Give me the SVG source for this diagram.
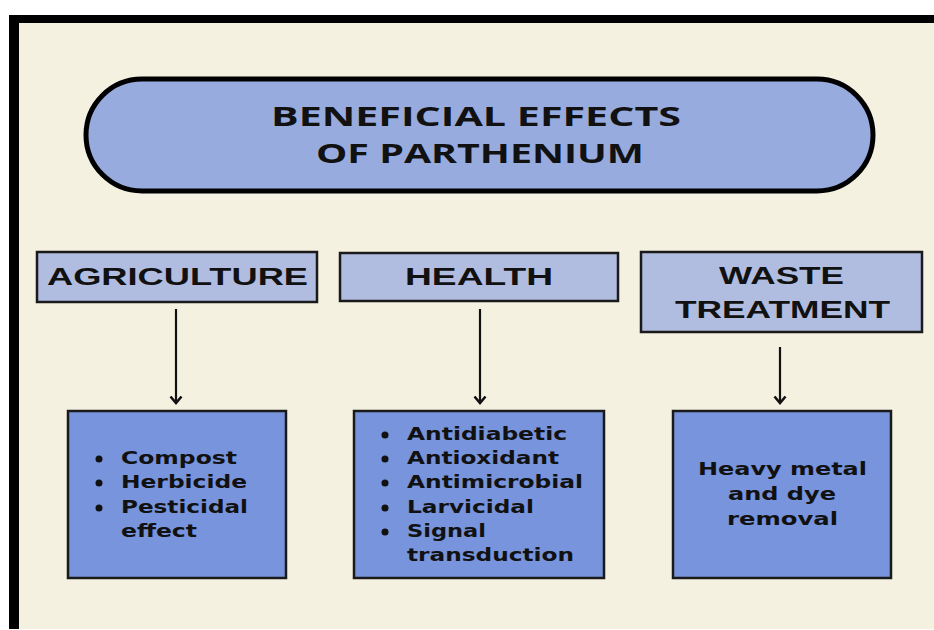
<svg xmlns="http://www.w3.org/2000/svg" width="934" height="630" viewBox="0 0 934 630">
<defs>
<style>
.title{font-family:"Open Sans","Liberation Sans",sans-serif;font-weight:700;font-size:26px;fill:#111;text-anchor:middle}
.head{font-family:"Liberation Sans",Arial,sans-serif;font-weight:700;font-size:23px;fill:#111}
.item{font-family:"DejaVu Sans","Liberation Sans",sans-serif;font-weight:700;font-size:18px;fill:#111}
.hbox{fill:#b0bde0;stroke:#1a1a1a;stroke-width:2.5}
.bbox{fill:#7794dc;stroke:#1a1a1a;stroke-width:2.5}
.conn{stroke:#111;stroke-width:2.2;fill:none;marker-end:url(#ah)}
</style>
<marker id="ah" markerWidth="14" markerHeight="10" refX="7" refY="8" orient="0" markerUnits="userSpaceOnUse">
<path d="M1.5,1.5 L7,8 L12.5,1.5" fill="none" stroke="#111" stroke-width="2.6" stroke-linejoin="miter"/>
</marker>
</defs>
<rect x="0" y="0" width="934" height="630" fill="#ffffff"/>
<rect x="9" y="15" width="925" height="614" fill="#000"/>
<rect x="19" y="23" width="915" height="606" fill="#f5f1e1"/>

<g id="title">
<rect x="86" y="79" width="787" height="112" rx="56" ry="56" fill="#98abdf" stroke="#000" stroke-width="5"/>
<text class="title" x="476" y="126" textLength="410" lengthAdjust="spacingAndGlyphs">BENEFICIAL EFFECTS</text>
<text class="title" x="480" y="163" textLength="328" lengthAdjust="spacingAndGlyphs">OF PARTHENIUM</text>
</g>

<g id="agriculture">
<rect class="hbox" x="37" y="252" width="280" height="50"/>
<text class="head" x="47" y="285" textLength="261" lengthAdjust="spacingAndGlyphs">AGRICULTURE</text>
</g>
<g id="health">
<rect class="hbox" x="340" y="253" width="278" height="48"/>
<text class="head" x="405" y="285" textLength="148" lengthAdjust="spacingAndGlyphs">HEALTH</text>
</g>
<g id="waste">
<rect class="hbox" x="641" y="252" width="281" height="80"/>
<text class="head" x="719" y="284" textLength="125" lengthAdjust="spacingAndGlyphs">WASTE</text>
<text class="head" x="675" y="318" textLength="215" lengthAdjust="spacingAndGlyphs">TREATMENT</text>
</g>

<g id="connectors">
<line class="conn" x1="176" y1="309" x2="176" y2="403"/>
<line class="conn" x1="480" y1="309" x2="480" y2="403"/>
<line class="conn" x1="780" y1="347" x2="780" y2="403"/>
</g>

<g id="agri-items">
<rect class="bbox" x="68" y="411" width="218" height="167"/>
<circle cx="99" cy="459" r="3.5" fill="#111"/>
<circle cx="99" cy="483" r="3.5" fill="#111"/>
<circle cx="99" cy="508" r="3.5" fill="#111"/>
<text class="item" x="121" y="464" textLength="116" lengthAdjust="spacingAndGlyphs">Compost</text>
<text class="item" x="121" y="488" textLength="126" lengthAdjust="spacingAndGlyphs">Herbicide</text>
<text class="item" x="121" y="513" textLength="127" lengthAdjust="spacingAndGlyphs">Pesticidal</text>
<text class="item" x="121" y="537" textLength="76" lengthAdjust="spacingAndGlyphs">effect</text>
</g>

<g id="health-items">
<rect class="bbox" x="354" y="411" width="250" height="167"/>
<circle cx="385" cy="435" r="3.5" fill="#111"/>
<circle cx="385" cy="459" r="3.5" fill="#111"/>
<circle cx="385" cy="483" r="3.5" fill="#111"/>
<circle cx="385" cy="508" r="3.5" fill="#111"/>
<circle cx="385" cy="532" r="3.5" fill="#111"/>
<text class="item" x="407" y="440" textLength="160" lengthAdjust="spacingAndGlyphs">Antidiabetic</text>
<text class="item" x="407" y="464" textLength="152" lengthAdjust="spacingAndGlyphs">Antioxidant</text>
<text class="item" x="407" y="488" textLength="176" lengthAdjust="spacingAndGlyphs">Antimicrobial</text>
<text class="item" x="407" y="513" textLength="127" lengthAdjust="spacingAndGlyphs">Larvicidal</text>
<text class="item" x="407" y="537" textLength="79" lengthAdjust="spacingAndGlyphs">Signal</text>
<text class="item" x="407" y="561" textLength="167" lengthAdjust="spacingAndGlyphs">transduction</text>
</g>

<g id="waste-items">
<rect class="bbox" x="673" y="411" width="218" height="167"/>
<text class="item" x="698" y="475" textLength="169" lengthAdjust="spacingAndGlyphs">Heavy metal</text>
<text class="item" x="728" y="500" textLength="108" lengthAdjust="spacingAndGlyphs">and dye</text>
<text class="item" x="727" y="525" textLength="111" lengthAdjust="spacingAndGlyphs">removal</text>
</g>
</svg>
